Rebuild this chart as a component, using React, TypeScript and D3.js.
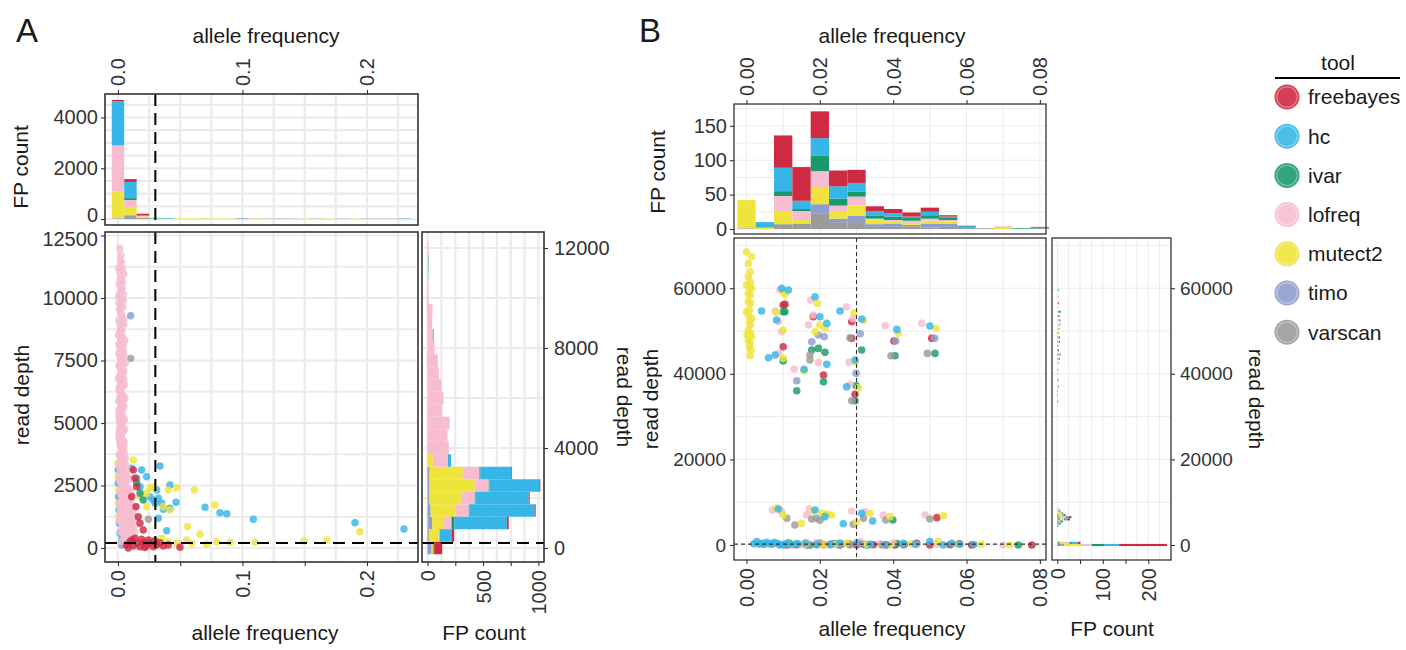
import React, { useEffect, useRef } from 'react';
import * as d3 from 'd3';

const FONT = '"Liberation Sans", Arial, Helvetica, sans-serif';

const tools = ['freebayes', 'hc', 'ivar', 'lofreq', 'mutect2', 'timo', 'varscan'];
const toolColors = ['#CE2B43', '#36B6E7', '#1A9A6C', '#F7BCCF', '#EEE43C', '#8E9DCF', '#9B9C99'];

// cut-offs shown as dashed lines
const afCutoff = 0.03;
const depthCutoff = 200;

// tick values
const afTicksA = [0, 0.05, 0.1, 0.15, 0.2];
const afLabelsA = [0, 0.1, 0.2];
const fpTicksTopA = [0, 2000, 4000];
const depthTicksA = [0, 2500, 5000, 7500, 10000, 12500];
const depthTicksRightA = [0, 4000, 8000, 12000];
const fpTicksRightA = [0, 250, 500, 750, 1000];
const afTicksB = [0, 0.02, 0.04, 0.06, 0.08];
const fpTicksTopB = [0, 50, 100, 150];
const depthTicksB = [0, 20000, 40000, 60000];
const fpTicksRightB = [0, 50, 100, 150, 200];

// histogram rows: [bin centre, freebayes, hc, ivar, lofreq, mutect2, timo, varscan]
const afHistA = [
  [0.00, 40, 1750, 0, 1810, 1060, 25, 5],
  [0.01, 113, 637, 75, 263, 337, 110, 40],
  [0.02, 60, 10, 20, 20, 40, 10, 50],
  [0.03, 5, 20, 0, 0, 15, 0, 10],
  [0.04, 0, 25, 0, 0, 8, 0, 0],
  [0.05, 0, 0, 0, 0, 25, 0, 0],
  [0.06, 0, 0, 0, 0, 22, 0, 0],
  [0.07, 0, 0, 0, 0, 20, 0, 5],
  [0.08, 0, 0, 0, 0, 18, 0, 0],
  [0.09, 0, 0, 0, 0, 15, 0, 0],
  [0.10, 0, 8, 5, 0, 0, 0, 18],
  [0.11, 0, 0, 0, 0, 18, 0, 0],
  [0.12, 0, 0, 0, 0, 0, 0, 12],
  [0.13, 0, 0, 0, 0, 0, 0, 15],
  [0.14, 0, 0, 0, 0, 0, 0, 12],
  [0.15, 0, 0, 0, 0, 15, 0, 0],
  [0.16, 0, 0, 0, 0, 0, 0, 12],
  [0.17, 0, 0, 0, 0, 15, 0, 0],
  [0.18, 0, 0, 0, 0, 0, 0, 12],
  [0.19, 0, 0, 0, 0, 15, 0, 0],
  [0.20, 0, 0, 0, 0, 0, 0, 12],
  [0.21, 0, 0, 0, 0, 0, 0, 12],
  [0.22, 0, 0, 0, 0, 0, 0, 12],
  [0.23, 0, 15, 5, 0, 0, 0, 0],
];

const depthHistA = [
  [0, 72, 12, 0, 0, 12, 36, 0],
  [500, 24, 108, 0, 6, 90, 0, 12],
  [1000, 15, 474, 27, 75, 99, 36, 6],
  [1500, 9, 588, 6, 120, 225, 27, 0],
  [2000, 9, 480, 6, 123, 285, 6, 12],
  [2500, 9, 450, 6, 126, 408, 18, 0],
  [3000, 6, 279, 9, 150, 300, 0, 18],
  [3500, 0, 30, 0, 135, 48, 0, 0],
  [4000, 0, 0, 0, 192, 0, 0, 0],
  [4500, 0, 0, 0, 180, 0, 0, 0],
  [5000, 0, 0, 0, 198, 0, 0, 0],
  [5500, 0, 0, 0, 132, 0, 0, 0],
  [6000, 0, 0, 0, 144, 0, 0, 0],
  [6500, 0, 0, 0, 126, 0, 0, 0],
  [7000, 0, 0, 0, 102, 0, 0, 0],
  [7500, 0, 0, 0, 90, 0, 0, 3],
  [8000, 0, 0, 0, 63, 0, 0, 0],
  [8500, 0, 0, 6, 48, 0, 0, 0],
  [9000, 0, 0, 0, 42, 0, 0, 0],
  [9500, 0, 0, 0, 42, 0, 3, 0],
  [10000, 0, 0, 0, 6, 0, 3, 0],
  [10500, 0, 0, 0, 9, 0, 0, 0],
  [11000, 0, 3, 0, 6, 0, 0, 0],
  [11500, 0, 0, 3, 6, 0, 0, 0],
  [12000, 0, 0, 0, 9, 0, 0, 0],
];

const afHistB = [
  [0.000, 0, 0, 0, 0, 41, 1, 0],
  [0.005, 0, 8, 0, 0, 2, 0, 0],
  [0.010, 47, 34, 7, 22, 19, 0, 7],
  [0.015, 49, 12, 3, 13, 5, 0, 8],
  [0.020, 39, 25, 23, 23, 25, 14, 22],
  [0.025, 23, 18, 10, 9, 10, 5, 10],
  [0.030, 19, 13, 7, 13, 15, 9, 10],
  [0.035, 7, 7, 4, 1, 7, 4, 3],
  [0.040, 6, 5, 5, 2, 3, 5, 3],
  [0.045, 6, 2, 4, 3, 3, 2, 4],
  [0.050, 6, 5, 5, 3, 4, 6, 2],
  [0.055, 2, 2, 3, 2, 3, 5, 3],
  [0.060, 0, 1, 2, 0, 0, 2, 0],
  [0.065, 0, 0, 0, 0, 0, 0, 1],
  [0.070, 0, 0, 0, 1, 3, 0, 0],
  [0.075, 0, 0, 1, 0, 0, 0, 0],
  [0.080, 1, 0, 1, 0, 0, 0, 1],
];

const depthHistB = [
  [0, 105, 32, 28, 22, 39, 5, 10],
  [500, 6, 13, 5, 12, 9, 0, 6],
  [4500, 0, 1, 0, 0, 1, 0, 2],
  [5000, 0, 2, 2, 0, 0, 1, 3],
  [5500, 0, 2, 4, 0, 3, 0, 4],
  [6000, 6, 4, 3, 3, 6, 2, 4],
  [6500, 5, 5, 2, 4, 8, 2, 5],
  [7000, 3, 3, 0, 4, 5, 0, 3],
  [7500, 0, 3, 0, 5, 5, 0, 0],
  [8000, 0, 4, 0, 0, 3, 0, 0],
  [8500, 0, 0, 0, 0, 3, 0, 0],
  [33500, 0, 0, 1, 0, 0, 0, 1],
  [35000, 1, 0, 0, 0, 0, 0, 0],
  [36000, 0, 0, 1, 0, 0, 0, 0],
  [37000, 0, 1, 1, 1, 1, 0, 0],
  [38500, 0, 0, 1, 0, 0, 1, 1],
  [40000, 0, 0, 0, 1, 0, 1, 0],
  [41000, 0, 1, 0, 1, 1, 0, 0],
  [42500, 0, 1, 0, 2, 1, 0, 0],
  [43500, 0, 2, 1, 0, 2, 0, 1],
  [44500, 0, 1, 2, 1, 1, 0, 3],
  [45500, 0, 0, 3, 0, 1, 0, 0],
  [46500, 1, 0, 0, 0, 1, 0, 0],
  [47500, 2, 0, 0, 1, 1, 2, 0],
  [48500, 2, 0, 0, 0, 1, 2, 1],
  [49500, 0, 0, 0, 1, 2, 2, 0],
  [50500, 0, 2, 0, 0, 3, 0, 0],
  [51500, 0, 2, 0, 3, 2, 0, 0],
  [52500, 1, 2, 0, 2, 2, 0, 0],
  [53500, 2, 1, 0, 1, 1, 0, 0],
  [54500, 0, 2, 3, 1, 2, 0, 0],
  [55500, 0, 0, 0, 1, 1, 0, 0],
  [56500, 2, 0, 0, 0, 2, 0, 0],
  [58000, 0, 1, 0, 1, 1, 0, 0],
  [59500, 0, 2, 0, 1, 1, 0, 0],
  [61500, 0, 0, 0, 0, 1, 0, 0],
  [62500, 0, 0, 0, 0, 1, 0, 0],
  [64000, 0, 0, 0, 0, 1, 0, 0],
  [65500, 0, 0, 0, 0, 1, 0, 0],
  [67500, 0, 0, 0, 0, 1, 0, 0],
  [68500, 0, 0, 0, 0, 1, 0, 0],
];

// false positive calls, panel A: [allele frequency, read depth]
const freebayesA = [
  [0.0070, 120], [0.0096, 250], [0.0123, 80], [0.0150, 190], [0.0177, 50], [0.0203, 210], [0.0230, 80],
  [0.0257, 190], [0.0284, 50], [0.0311, 120], [0.0337, 210], [0.0364, 80], [0.0404, 120], [0.0498, 30],
  [0.0137, 390], [0.0190, 350], [0.0244, 320], [0.0297, 290], [0.0083, 0], [0.0110, 320], [0.0215, 20],
  [0.0137, 2790], [0.0150, 2450], [0.0123, 3120], [0.0145, 1650], [0.0177, 990], [0.0110, 2050],
  [0.0203, 720], [0.0163, 1250],
];
const hcA = [
  [0.0002, 3120], [0.0002, 2590], [0.0005, 2050], [0.0008, 1520], [0.0011, 990], [0.0016, 590], [0.0030, 320],
  [0.0337, 3280], [0.0418, 2520], [0.0311, 2320], [0.0284, 1920], [0.0324, 1990], [0.0297, 1790],
  [0.0351, 1790], [0.0418, 1590], [0.0466, 1830], [0.0257, 2050], [0.0230, 2850], [0.0190, 3120],
  [0.0177, 2450], [0.0699, 1630], [0.0819, 1410], [0.0873, 1370], [0.1087, 1150], [0.0391, 690],
  [0.0324, 1190], [0.1904, 1010], [0.2297, 760], [0.0364, 1550], [0.0110, 3190], [0.0150, 2790],
];
const ivarA = [[0.0177, 2190], [0.0203, 1920], [0.0150, 2590]];
const lofreqA = [
  [0.0016, 11980], [0.0030, 11400], [0.0006, 11200], [0.0046, 10950], [0.0020, 10800], [0.0010, 10550],
  [0.0035, 10400], [0.0015, 10200], [0.0028, 10000], [0.0008, 9800], [0.0040, 9650], [0.0018, 9450],
  [0.0030, 9250], [0.0006, 9100], [0.0045, 8950], [0.0022, 8800], [0.0012, 8600], [0.0036, 8450],
  [0.0055, 8300], [0.0008, 8150], [0.0026, 8000], [0.0044, 7850], [0.0015, 7700], [0.0032, 7550],
  [0.0060, 7420], [0.0008, 7300], [0.0022, 7150], [0.0040, 7000], [0.0012, 6850], [0.0030, 6700],
  [0.0052, 6550], [0.0006, 6400], [0.0020, 6250], [0.0038, 6100], [0.0014, 5950], [0.0028, 5800],
  [0.0048, 5650], [0.0008, 5500], [0.0024, 5350], [0.0042, 5200], [0.0012, 5050], [0.0032, 4900],
  [0.0055, 4750], [0.0006, 4600], [0.0020, 4450], [0.0040, 4300], [0.0014, 4150], [0.0030, 4000],
  [0.0050, 3850], [0.0008, 3700], [0.0024, 3550], [0.0044, 3400], [0.0065, 3300], [0.0014, 3200],
  [0.0034, 3050], [0.0058, 2950], [0.0080, 2850], [0.0010, 2750], [0.0028, 2600], [0.0050, 2500],
  [0.0072, 2400], [0.0100, 2300], [0.0016, 2200], [0.0040, 2100], [0.0062, 2000], [0.0090, 1900],
  [0.0008, 1800], [0.0030, 1700], [0.0055, 1600], [0.0085, 1500], [0.0115, 1400], [0.0020, 1300],
  [0.0045, 1200], [0.0070, 1100], [0.0100, 1000], [0.0130, 900], [0.0035, 800], [0.0060, 700],
  [0.0090, 600], [0.0120, 500], [0.0050, 400], [0.0080, 300], [0.0030, 250],
  [0.0024, 11700], [0.0012, 11050], [0.0038, 10650], [0.0026, 10300], [0.0005, 10050], [0.0042, 9900],
  [0.0012, 9550], [0.0028, 9350], [0.0048, 9150], [0.0016, 9000], [0.0034, 8700], [0.0004, 8500],
  [0.0025, 8350], [0.0044, 8200], [0.0016, 8050], [0.0034, 7900], [0.0006, 7800], [0.0050, 7650],
  [0.0024, 7450], [0.0014, 7250], [0.0046, 7100], [0.0030, 6950], [0.0004, 6780], [0.0022, 6600],
  [0.0040, 6450], [0.0012, 6300], [0.0030, 6150], [0.0056, 6000], [0.0006, 5870], [0.0038, 5720],
  [0.0018, 5580], [0.0034, 5430], [0.0004, 5280], [0.0052, 5120], [0.0022, 4980], [0.0012, 4820],
  [0.0042, 4680], [0.0030, 4530], [0.0008, 4380], [0.0050, 4220], [0.0022, 4080], [0.0040, 3930],
  [0.0014, 3780], [0.0060, 3620], [0.0032, 3480], [0.0004, 3350], [0.0075, 3150], [0.0022, 3100],
  [0.0046, 2900], [0.0095, 2750], [0.0018, 2650], [0.0064, 2550], [0.0036, 2450], [0.0085, 2350],
  [0.0110, 2150], [0.0052, 2250], [0.0028, 2050], [0.0075, 1950], [0.0105, 1800], [0.0048, 1750],
  [0.0018, 1550], [0.0068, 1650], [0.0125, 1550], [0.0095, 1350], [0.0035, 1450], [0.0058, 1350],
  [0.0010, 1100], [0.0082, 1200], [0.0115, 1100], [0.0140, 1150], [0.0028, 1000], [0.0050, 950],
  [0.0075, 850], [0.0105, 800], [0.0018, 650], [0.0045, 550], [0.0065, 450], [0.0100, 400], [0.0135, 650],
  [0.0020, 11500], [0.0034, 11150], [0.0018, 10700], [0.0044, 10150], [0.0022, 9700], [0.0036, 9050],
  [0.0020, 8650], [0.0040, 8100], [0.0020, 7600], [0.0036, 7250], [0.0016, 6900], [0.0046, 6750],
  [0.0026, 6500], [0.0016, 6050], [0.0044, 5900], [0.0026, 5600], [0.0016, 5150], [0.0036, 5050],
  [0.0026, 4700], [0.0018, 4250], [0.0046, 4050], [0.0028, 3700], [0.0052, 3550], [0.0040, 3200],
  [0.0012, 2950], [0.0060, 2700], [0.0024, 2350], [0.0088, 2100], [0.0040, 1900], [0.0110, 1650],
  [0.0020, 1450], [0.0078, 1450], [0.0060, 1000], [0.0120, 1250], [0.0040, 600], [0.0080, 550],
];
const mutect2A = [
  [0.0000, 3390], [0.0000, 2850], [0.0003, 2320], [0.0003, 1790], [0.0005, 1250],
  [0.0123, 3520], [0.0257, 2390], [0.0284, 2450], [0.0404, 2320], [0.0471, 2410], [0.0613, 2320],
  [0.0230, 2190], [0.0364, 1650], [0.0418, 1520], [0.0779, 1720], [0.0557, 850], [0.0659, 560],
  [0.0351, 390], [0.0404, 250], [0.0471, 190], [0.0552, 320], [0.0592, 190], [0.0712, 160],
  [0.0793, 250], [0.0900, 230], [0.1100, 230], [0.1494, 280], [0.1676, 320], [0.1944, 650],
  [0.0177, 2050], [0.0230, 1650],
];
const timoA = [[0.0102, 9290], [0.0048, 190], [0.0030, 120]];
const varscanA = [[0.0102, 7585], [0.0244, 1150]];

// false positive calls, panel B
const freebayesB = [
  [0.0100, 56060], [0.0105, 56220], [0.0100, 46330], [0.0182, 53340], [0.0210, 39710], [0.0287, 52170],
  [0.0287, 48280], [0.0296, 35200], [0.0402, 47660], [0.0505, 48280], [0.0519, 6390],
  [0.0110, 0], [0.0137, 50], [0.0164, 0], [0.0210, 50], [0.0255, 0], [0.0300, 0], [0.0346, 50],
  [0.0382, 0], [0.0405, 0], [0.0464, 390], [0.0500, 0], [0.0555, 50], [0.0614, 0], [0.0778, 0],
  [0.0190, 200], [0.0280, 250], [0.0240, 300], [0.0320, 150], [0.0430, 100], [0.0580, 300],
];
const hcB = [
  [0.0096, 59960], [0.0114, 59570], [0.0041, 54660], [0.0082, 52560], [0.0060, 43760], [0.0078, 44390],
  [0.0157, 41040], [0.0187, 58010], [0.0200, 53340], [0.0219, 51780], [0.0255, 54660], [0.0314, 52800],
  [0.0219, 42210], [0.0273, 36990], [0.0296, 43220], [0.0410, 50380], [0.0500, 51160],
  [0.0087, 8410], [0.0187, 8180], [0.0214, 6620], [0.0264, 4980], [0.0314, 7400], [0.0344, 5610],
  [0.0028, 780], [0.0041, 390], [0.0055, 620], [0.0069, 160], [0.0082, 470], [0.0100, 0], [0.0137, 310],
  [0.0191, 50], [0.0255, 470], [0.0337, 160], [0.0428, 390], [0.0500, 780], [0.0537, 0], [0.0582, 160],
  [0.0035, 200], [0.0062, 300], [0.0090, 150], [0.0115, 500],
  [0.0020, 300], [0.0048, 100], [0.0075, 600], [0.0105, 250], [0.0125, 50], [0.0160, 400], [0.0230, 200],
  [0.0300, 500], [0.0380, 100], [0.0460, 200], [0.0560, 400], [0.0620, 100],
];
const ivarB = [
  [0.0100, 54510], [0.0105, 54510], [0.0100, 42980], [0.0137, 36050], [0.0178, 45550], [0.0196, 45940],
  [0.0214, 45010], [0.0210, 38160], [0.0314, 45550], [0.0299, 37220], [0.0296, 33720], [0.0405, 44230],
  [0.0514, 44770], [0.0399, 5840],
  [0.0173, 0], [0.0246, 160], [0.0328, 0], [0.0410, 310], [0.0741, 0],
];
const lofreqB = [
  [0.0091, 59570], [0.0078, 54660], [0.0087, 52170], [0.0096, 49840], [0.0087, 44770], [0.0130, 41120],
  [0.0175, 57230], [0.0182, 53730], [0.0169, 51390], [0.0196, 42600], [0.0273, 55680], [0.0290, 52950],
  [0.0280, 42670], [0.0282, 37530], [0.0378, 51240], [0.0478, 51780],
  [0.0071, 8180], [0.0096, 7790], [0.0171, 8410], [0.0164, 7010], [0.0287, 7940], [0.0323, 7790],
  [0.0373, 7010], [0.0487, 7010],
  [0.0110, 390], [0.0164, 620], [0.0228, 160], [0.0310, 780], [0.0364, 310], [0.0464, 0], [0.0700, 0],
  [0.0150, 100], [0.0255, 300], [0.0190, 500], [0.0330, 100], [0.0400, 450], [0.0520, 200],
];
const mutect2B = [
  [0.0000, 68500], [0.0014, 67360], [0.0005, 65800], [0.0010, 63850], [0.0005, 62690], [0.0011, 61520],
  [0.0000, 60740], [0.0008, 60350], [0.0014, 59960], [0.0005, 58790], [0.0010, 58400], [0.0005, 56850],
  [0.0011, 56460], [0.0008, 54900], [0.0000, 54510], [0.0005, 53730], [0.0014, 52950], [0.0008, 52170],
  [0.0011, 51390], [0.0005, 50230], [0.0010, 49450], [0.0002, 49060], [0.0014, 48670], [0.0005, 47890],
  [0.0010, 47110], [0.0008, 46330], [0.0012, 45550], [0.0010, 44230],
  [0.0105, 58560], [0.0100, 59180], [0.0082, 54350], [0.0100, 50230], [0.0100, 43610], [0.0157, 40650],
  [0.0193, 56460], [0.0200, 51390], [0.0214, 50620], [0.0187, 49840], [0.0293, 54280], [0.0319, 52480],
  [0.0296, 42830], [0.0305, 36750], [0.0414, 49450], [0.0517, 50620],
  [0.0082, 8720], [0.0100, 7010], [0.0150, 5060], [0.0182, 7940], [0.0205, 7400], [0.0219, 7160],
  [0.0232, 7010], [0.0300, 5300], [0.0337, 7400], [0.0391, 6620], [0.0537, 6850],
  [0.0123, 390], [0.0210, 0], [0.0273, 470], [0.0328, 160], [0.0391, 0], [0.0523, 780], [0.0573, 160],
  [0.0718, 0], [0.0160, 200], [0.0240, 100], [0.0450, 300], [0.0640, 150],
];
const timoB = [
  [0.0137, 38390], [0.0178, 47500], [0.0196, 49060], [0.0212, 48670], [0.0310, 49370], [0.0299, 40100],
  [0.0407, 47660], [0.0513, 48280], [0.0191, 6230], [0.0091, 0], [0.0228, 0],
];
const varscanB = [
  [0.0173, 44390], [0.0173, 43220], [0.0282, 48430], [0.0287, 33720], [0.0394, 44230], [0.0493, 44770],
  [0.0110, 6230], [0.0132, 4670], [0.0178, 6070], [0.0200, 5760], [0.0291, 4830], [0.0319, 6230],
  [0.0380, 5840], [0.0500, 6070],
  [0.0114, 160], [0.0168, 0], [0.0237, 310], [0.0282, 0], [0.0337, 50], [0.0428, 0],
  [0.0140, 250], [0.0200, 450], [0.0260, 150], [0.0310, 300], [0.0370, 0],
];

export default function App() {
  const svgRef = useRef<SVGSVGElement | null>(null);

  useEffect(() => {
    const svg = d3.select(svgRef.current);
    svg.selectAll('*').remove();
    svg.append('rect').attr('width', 1406).attr('height', 650).attr('fill', '#fff');

    const color = d3.scaleOrdinal<string, string>().domain(tools).range(toolColors);
    const stackKeys = tools.slice().reverse();

    // panel boxes
    const topA = { x0: 105, x1: 418, y0: 94, y1: 225 };
    const mainA = { x0: 105, x1: 418, y0: 232, y1: 562 };
    const rightA = { x0: 422, x1: 544, y0: 232, y1: 562 };
    const topB = { x0: 734, x1: 1046, y0: 104, y1: 234 };
    const mainB = { x0: 734, x1: 1046, y0: 238, y1: 560 };
    const rightB = { x0: 1052, x1: 1171, y0: 238, y1: 560 };

    // scales
    const xA = d3.scaleLinear().domain([-0.01044, 0.241]).range([mainA.x0, mainA.x1]);
    const yTopA = d3.scaleLinear().domain([-235, 4925]).range([topA.y1, topA.y0]);
    const yA = d3.scaleLinear().domain([-560, 12640]).range([mainA.y1, mainA.y0]);
    const xRightA = d3.scaleLinear().domain([-50, 1050]).range([rightA.x0, rightA.x1]);
    const xB = d3.scaleLinear().domain([-0.00341, 0.08167]).range([mainB.x0, mainB.x1]);
    const yTopB = d3.scaleLinear().domain([-7.3, 181.7]).range([topB.y1, topB.y0]);
    const yB = d3.scaleLinear().domain([-3505, 71730]).range([mainB.y1, mainB.y0]);
    const xRightB = d3.scaleLinear().domain([-11.6, 249.9]).range([rightB.x0, rightB.x1]);

    const root = svg.append('g').attr('font-family', FONT);

    const grid = (box, xs, xVals, ys, yVals, lw) => {
      const g = root.append('g').attr('stroke', '#EBEBEB').attr('stroke-width', lw);
      g.selectAll(null).data(xVals).join('line')
        .attr('x1', d => xs(d)).attr('x2', d => xs(d)).attr('y1', box.y0).attr('y2', box.y1);
      g.selectAll(null).data(yVals).join('line')
        .attr('y1', d => ys(d)).attr('y2', d => ys(d)).attr('x1', box.x0).attr('x2', box.x1);
    };
    const frame = (box, lw) => {
      root.append('rect').attr('x', box.x0).attr('y', box.y0)
        .attr('width', box.x1 - box.x0).attr('height', box.y1 - box.y0)
        .attr('fill', 'none').attr('stroke', '#333').attr('stroke-width', lw);
    };
    const toObjs = rows => rows.map(r => {
      const o: any = { bin: r[0] };
      tools.forEach((t, i) => { o[t] = r[i + 1]; });
      return o;
    });

    // vertical stacked histogram
    const barsV = (rows, xs, ys, w) => {
      const series = d3.stack().keys(stackKeys)(toObjs(rows));
      root.append('g').selectAll('g').data(series).join('g')
        .attr('fill', s => color(s.key))
        .selectAll('rect').data(s => s.filter(d => d[1] > d[0])).join('rect')
        .attr('x', d => xs(d.data.bin - w / 2))
        .attr('width', d => xs(d.data.bin + w / 2) - xs(d.data.bin - w / 2))
        .attr('y', d => ys(d[1]))
        .attr('height', d => ys(d[0]) - ys(d[1]));
    };
    // horizontal stacked histogram
    const barsH = (rows, xs, ys, w) => {
      const series = d3.stack().keys(stackKeys)(toObjs(rows));
      root.append('g').selectAll('g').data(series).join('g')
        .attr('fill', s => color(s.key))
        .selectAll('rect').data(s => s.filter(d => d[1] > d[0])).join('rect')
        .attr('y', d => ys(d.data.bin + w / 2))
        .attr('height', d => ys(d.data.bin - w / 2) - ys(d.data.bin + w / 2))
        .attr('x', d => xs(d[0]))
        .attr('width', d => xs(d[1]) - xs(d[0]));
    };
    const points = (sets, xs, ys, r) => {
      sets.forEach(([tool, pts]) => {
        root.append('g').attr('fill', color(tool)).attr('fill-opacity', 0.82)
          .selectAll('circle').data(pts).join('circle')
          .attr('cx', d => xs(d[0])).attr('cy', d => ys(d[1])).attr('r', r);
      });
    };
    const vDash = (box, x, lw, dash, col) => {
      root.append('line').attr('x1', x).attr('x2', x).attr('y1', box.y0).attr('y2', box.y1)
        .attr('stroke', col).attr('stroke-width', lw).attr('stroke-dasharray', dash);
    };
    const hDash = (box, y, lw, dash, col) => {
      root.append('line').attr('y1', y).attr('y2', y).attr('x1', box.x0).attr('x2', box.x1)
        .attr('stroke', col).attr('stroke-width', lw).attr('stroke-dasharray', dash);
    };
    const axis = (gen, tx, ty, size) => {
      const g = root.append('g').attr('transform', `translate(${tx},${ty})`).call(gen);
      g.attr('font-family', FONT).attr('font-size', size);
      g.select('.domain').remove();
      g.selectAll('.tick line').attr('stroke', '#333').attr('stroke-width', 1.1);
      g.selectAll('.tick text').attr('fill', '#333');
      return g;
    };
    const rotUp = (g, off) => g.selectAll('.tick text')
      .attr('transform', 'rotate(-90)').attr('text-anchor', 'start')
      .attr('x', off).attr('y', 0).attr('dy', '0.35em');
    const rotDown = (g, off) => g.selectAll('.tick text')
      .attr('transform', 'rotate(-90)').attr('text-anchor', 'end')
      .attr('x', -off).attr('y', 0).attr('dy', '0.35em');
    const label = (txt, x, y, size, rot = 0, anchor = 'middle') => {
      root.append('text').attr('transform', `translate(${x},${y}) rotate(${rot})`)
        .attr('text-anchor', anchor).attr('font-size', size).attr('fill', '#1a1a1a').text(txt);
    };

    const f1 = d3.format('.1f');
    const f2 = d3.format('.2f');
    const fi = d3.format('d');
    const afGridA = d3.range(0, 0.2401, 0.025);

    // ---------- Panel A: top histogram
    grid(topA, xA, afGridA, yTopA, d3.range(0, 4801, 500), 2.2);
    barsV(afHistA, xA, yTopA, 0.01);
    vDash(topA, xA(afCutoff), 2, '12 7', '#000');
    frame(topA, 1.6);
    rotUp(axis(d3.axisTop(xA).tickValues(afLabelsA).tickFormat(f1).tickSize(4), 0, topA.y0, 20), 8);
    const topLeftA = axis(d3.axisLeft(yTopA).tickValues(fpTicksTopA).tickFormat(fi).tickSize(4).tickPadding(3), topA.x0, 0, 20);
    // lift the "0" label a little so it clears the scatter's top label
    topLeftA.selectAll('.tick text').filter(d => d === 0).attr('dy', '0.1em');

    // ---------- Panel A: scatter
    grid(mainA, xA, afGridA, yA, d3.range(0, 12501, 1250), 2.2);
    points([
      ['hc', hcA], ['mutect2', mutect2A], ['ivar', ivarA], ['timo', timoA],
      ['varscan', varscanA], ['lofreq', lofreqA], ['freebayes', freebayesA],
    ], xA, yA, 3.7);
    vDash(mainA, xA(afCutoff), 2, '12 7', '#000');
    hDash(mainA, yA(depthCutoff), 2, '12 7', '#000');
    frame(mainA, 1.6);
    const leftA = axis(d3.axisLeft(yA).tickValues(depthTicksA).tickFormat(fi).tickSize(4).tickPadding(3), mainA.x0, 0, 20);
    leftA.selectAll('.tick text').filter(d => d === 12500).attr('dy', '0.5em');
    rotDown(axis(d3.axisBottom(xA).tickValues(afTicksA)
      .tickFormat((d, i) => (i % 2 === 0 ? f1(d) : '')).tickSize(4), 0, mainA.y1, 20), 8);

    // ---------- Panel A: right histogram
    grid(rightA, xRightA, d3.range(0, 1001, 125), yA, d3.range(0, 12001, 2000), 2.2);
    barsH(depthHistA, xRightA, yA, 500);
    hDash(rightA, yA(depthCutoff), 2, '12 7', '#000');
    frame(rightA, 1.6);
    axis(d3.axisRight(yA).tickValues(depthTicksRightA).tickFormat(fi).tickSize(4).tickPadding(6), rightA.x1, 0, 20);
    rotDown(axis(d3.axisBottom(xRightA).tickValues(fpTicksRightA)
      .tickFormat((d, i) => (i % 2 === 0 ? String(d) : '')).tickSize(4), 0, rightA.y1, 20), 8);

    // ---------- Panel B: top histogram
    const afGridB = d3.range(0, 0.0801, 0.01);
    grid(topB, xB, afGridB, yTopB, d3.range(0, 176, 25), 1);
    barsV(afHistB, xB, yTopB, 0.005);
    frame(topB, 1.3);
    rotUp(axis(d3.axisTop(xB).tickValues(afTicksB).tickFormat(f2).tickSize(4), 0, topB.y0, 20), 8);
    axis(d3.axisLeft(yTopB).tickValues(fpTicksTopB).tickFormat(fi).tickSize(4).tickPadding(3), topB.x0, 0, 20);

    // ---------- Panel B: scatter
    grid(mainB, xB, afGridB, yB, d3.range(0, 70001, 10000), 1);
    points([
      ['freebayes', freebayesB], ['ivar', ivarB], ['lofreq', lofreqB], ['timo', timoB],
      ['varscan', varscanB], ['mutect2', mutect2B], ['hc', hcB],
    ], xB, yB, 3.8);
    vDash(mainB, xB(afCutoff), 1.1, '4 3', '#333');
    hDash(mainB, yB(depthCutoff), 1.1, '4 3', '#333');
    frame(mainB, 1.3);
    axis(d3.axisLeft(yB).tickValues(depthTicksB).tickFormat(fi).tickSize(4).tickPadding(4), mainB.x0, 0, 19);
    rotDown(axis(d3.axisBottom(xB).tickValues(afTicksB).tickFormat(f2).tickSize(4), 0, mainB.y1, 20), 8);

    // ---------- Panel B: right histogram
    grid(rightB, xRightB, d3.range(0, 226, 25), yB, d3.range(0, 70001, 10000), 1);
    barsH(depthHistB, xRightB, yB, 500);
    frame(rightB, 1.3);
    axis(d3.axisRight(yB).tickValues(depthTicksB).tickFormat(fi).tickSize(4).tickPadding(5), rightB.x1, 0, 19);
    rotDown(axis(d3.axisBottom(xRightB).tickValues(fpTicksRightB)
      .tickFormat((d, i) => (i % 2 === 0 ? String(d) : '')).tickSize(4), 0, rightB.y1, 20), 8);

    // ---------- titles
    label('A', 16, 42, 33, 0, 'start');
    label('B', 639, 42, 33, 0, 'start');
    label('allele frequency', 266, 43, 21);
    label('allele frequency', 892, 43, 21);
    label('FP count', 28, 167, 21, -90);
    label('read depth', 29, 395, 21, -90);
    label('allele frequency', 265, 640, 21);
    label('FP count', 484, 640, 21);
    label('read depth', 617, 397, 21, 90);
    label('FP count', 665, 172, 21, -90);
    label('read depth', 658, 399, 21, -90);
    label('allele frequency', 892, 636, 21);
    label('FP count', 1112, 636, 21);
    label('read depth', 1249, 399, 21, 90);

    // ---------- legend
    const lg = root.append('g');
    lg.append('text').attr('x', 1338).attr('y', 70).attr('text-anchor', 'middle')
      .attr('font-size', 21).attr('fill', '#1a1a1a').text('tool');
    lg.append('line').attr('x1', 1275).attr('x2', 1400).attr('y1', 78).attr('y2', 78)
      .attr('stroke', '#000').attr('stroke-width', 2);
    const item = lg.selectAll('g.item').data(tools).join('g')
      .attr('class', 'item')
      .attr('transform', (d, i) => `translate(1287,${97 + i * 39.2})`);
    item.append('circle').attr('r', 12.5).attr('fill', d => color(d)).attr('fill-opacity', 0.9);
    item.append('circle').attr('r', 10.2).attr('fill', 'none')
      .attr('stroke', '#fff').attr('stroke-opacity', 0.3).attr('stroke-width', 1.4);
    item.append('text').attr('x', 21).attr('dy', '0.35em').attr('font-size', 21)
      .attr('fill', '#1a1a1a').text(d => d);
  }, []);

  return (
    <div style={{ position: 'absolute', left: 0, top: 0 }}>
      <svg ref={svgRef} width={1406} height={650} style={{ display: 'block' }} />
    </div>
  );
}
